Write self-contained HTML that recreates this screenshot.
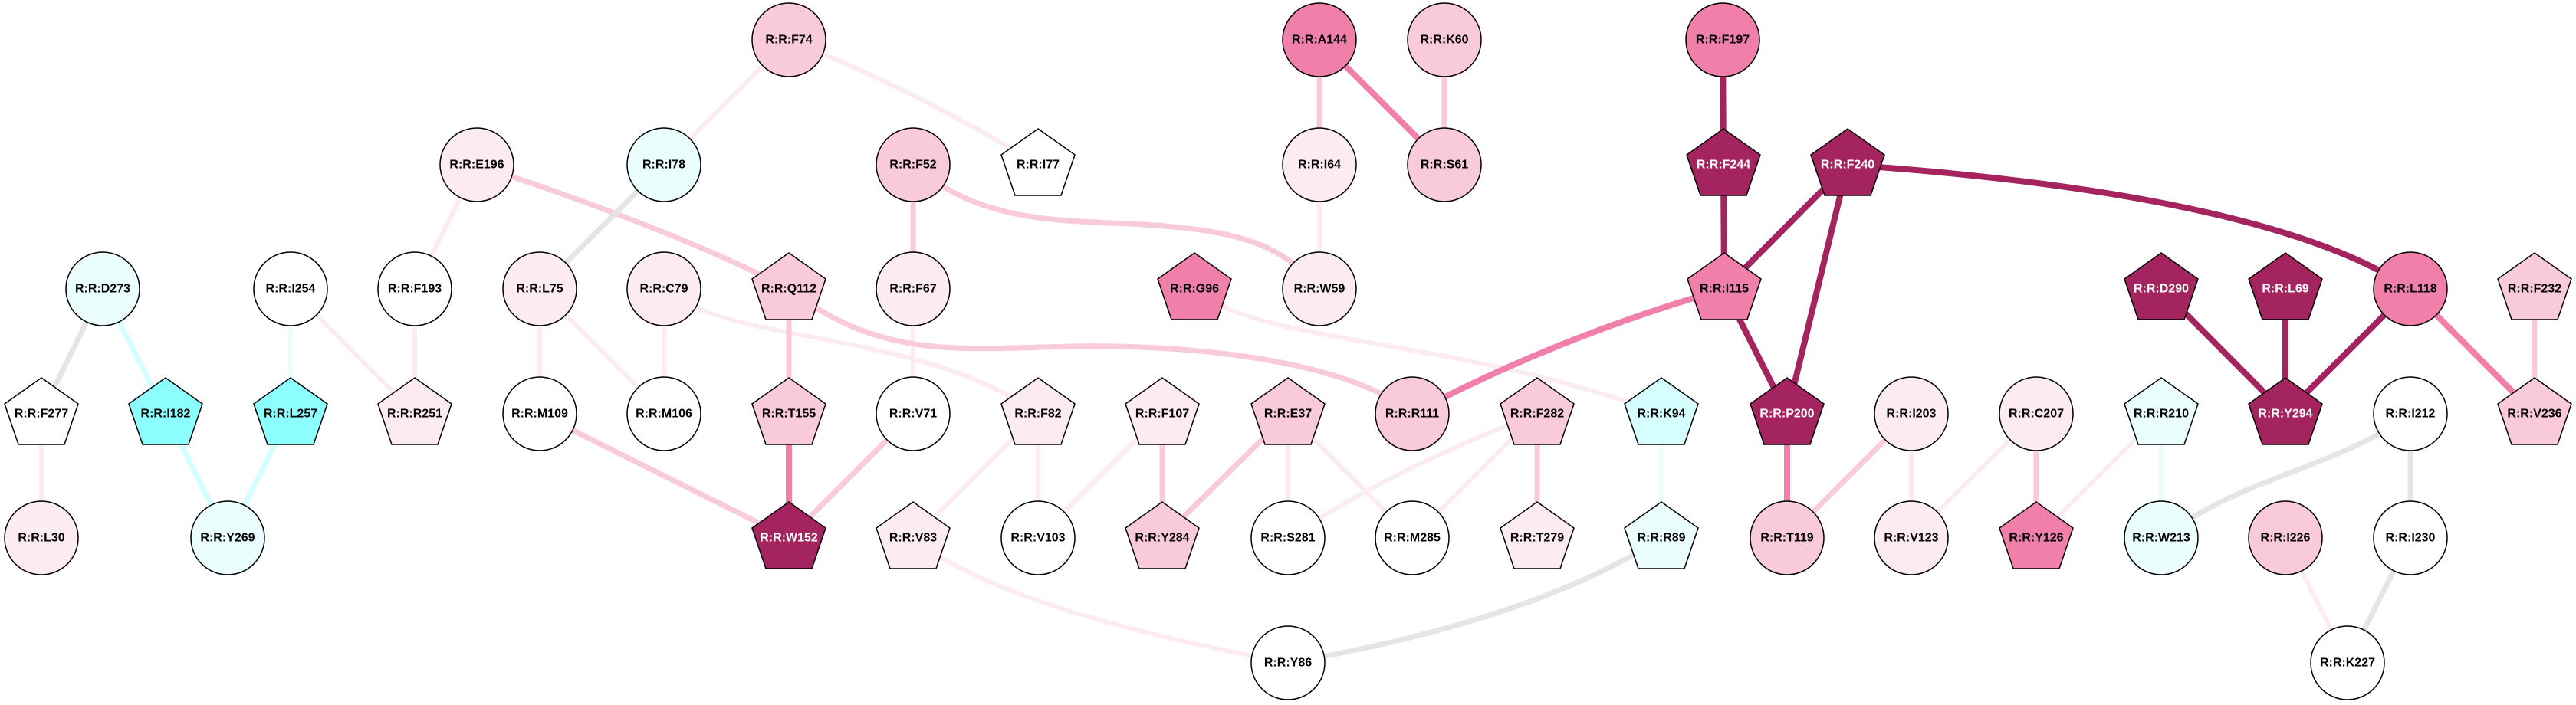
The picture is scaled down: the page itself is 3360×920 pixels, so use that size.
<!DOCTYPE html>
<html><head><meta charset="utf-8"><style>
html,body{margin:0;padding:0;background:#fff;}
svg{display:block;}
text{font-family:"Liberation Sans",Arial,sans-serif;font-weight:bold;font-size:16px;text-anchor:middle;dominant-baseline:central;}
</style></head><body>
<svg width="3360" height="920" viewBox="0 0 3360 920" xmlns="http://www.w3.org/2000/svg">
<g fill="none" stroke-linecap="butt">
<!-- light pink edges -->
<g stroke="#fcebf2" stroke-width="6">
<line x1="1029" y1="52" x2="866" y2="215"/>
<path d="M1029,52 Q1200,120 1354,215"/>
<line x1="622" y1="215" x2="541" y2="377"/>
<line x1="379" y1="377" x2="541" y2="540"/>
<line x1="541" y1="377" x2="541" y2="540"/>
<line x1="704" y1="377" x2="704" y2="540"/>
<line x1="704" y1="377" x2="866" y2="540"/>
<line x1="866" y1="377" x2="866" y2="540"/>
<path d="M866,377 C950,450 1200,430 1354,540"/>
<line x1="54" y1="540" x2="54" y2="702"/>
<line x1="1191" y1="377" x2="1191" y2="540"/>
<path d="M1558,377 C1640,450 1900,440 2167,540"/>
<line x1="1721" y1="215" x2="1721" y2="377"/>
<line x1="1354" y1="540" x2="1191" y2="702"/>
<line x1="1354" y1="540" x2="1354" y2="702"/>
<line x1="1516" y1="540" x2="1354" y2="702"/>
<line x1="1680" y1="540" x2="1680" y2="702"/>
<line x1="1680" y1="540" x2="1842" y2="702"/>
<path d="M2005,540 Q1820,610 1680,702"/>
<line x1="2005" y1="540" x2="1842" y2="702"/>
<path d="M1191,702 C1300,790 1550,840 1680,865"/>
<line x1="2493" y1="540" x2="2493" y2="702"/>
<line x1="2656" y1="540" x2="2493" y2="702"/>
<line x1="2819" y1="540" x2="2656" y2="702"/>
<line x1="2981" y1="702" x2="3062" y2="865"/>
</g>
<!-- medium pink -->
<g stroke="#f9c9dc" stroke-width="7">
<path d="M622,215 Q880,300 1029,377"/>
<line x1="1029" y1="377" x2="1029" y2="540"/>
<path d="M1029,377 C1150,470 1250,455 1400,452 S1760,470 1842,540"/>
<line x1="704" y1="540" x2="1029" y2="702"/>
<line x1="1191" y1="540" x2="1029" y2="702"/>
<line x1="1191" y1="215" x2="1191" y2="377"/>
<path d="M1191,215 C1290,300 1400,285 1520,295 S1680,330 1721,377"/>
<line x1="1721" y1="52" x2="1721" y2="215"/>
<line x1="1884" y1="52" x2="1884" y2="215"/>
<line x1="1516" y1="540" x2="1516" y2="702"/>
<line x1="1680" y1="540" x2="1516" y2="702"/>
<line x1="2005" y1="540" x2="2005" y2="702"/>
<line x1="2493" y1="540" x2="2331" y2="702"/>
<line x1="2656" y1="540" x2="2656" y2="702"/>
<line x1="3306" y1="377" x2="3306" y2="540"/>
</g>
<!-- strong pink -->
<g stroke="#f07faa" stroke-width="8">
<line x1="1029" y1="540" x2="1029" y2="702"/>
<line x1="1721" y1="52" x2="1884" y2="215"/>
<path d="M1842,540 Q2030,440 2249,377"/>
<line x1="2331" y1="540" x2="2331" y2="702"/>
<line x1="3144" y1="377" x2="3306" y2="540"/>
</g>
<!-- dark -->
<g stroke="#a3245e" stroke-width="8">
<line x1="2247" y1="52" x2="2248" y2="215"/>
<line x1="2248" y1="215" x2="2249" y2="377"/>
<line x1="2410" y1="215" x2="2249" y2="377"/>
<line x1="2410" y1="215" x2="2331" y2="540"/>
<line x1="2249" y1="377" x2="2331" y2="540"/>
<path d="M2410,215 C2700,235 3000,280 3144,377"/>
<line x1="2819" y1="377" x2="2981" y2="540"/>
<line x1="2981" y1="377" x2="2981" y2="540"/>
<line x1="3144" y1="377" x2="2981" y2="540"/>
</g>
<!-- gray -->
<g stroke="#e5e5e5" stroke-width="7">
<line x1="866" y1="215" x2="704" y2="377"/>
<line x1="134" y1="377" x2="54" y2="540"/>
<path d="M2167,702 Q2000,810 1680,865"/>
<path d="M3144,540 C3050,610 2930,620 2819,702"/>
<line x1="3144" y1="540" x2="3144" y2="702"/>
<line x1="3144" y1="702" x2="3062" y2="865"/>
</g>
<!-- cyan -->
<g stroke="#d5fefe" stroke-width="7">
<line x1="134" y1="377" x2="216" y2="540"/>
<line x1="216" y1="540" x2="297" y2="702"/>
<line x1="379" y1="540" x2="297" y2="702"/>
</g>
<g stroke="#ebfefe" stroke-width="6">
<line x1="379" y1="377" x2="379" y2="540"/>
<line x1="2167" y1="540" x2="2167" y2="702"/>
<line x1="2819" y1="540" x2="2819" y2="702"/>
</g>
</g>
<defs>
<polygon id="p" points="0,-47 48,-13 30,40 -30,40 -48,-13"/>
</defs>
<g stroke="#000" stroke-width="1.5">
<!-- circles -->
<g>
<ellipse cx="1029" cy="52" rx="48" ry="48" fill="#f9c9dc"/>
<ellipse cx="1721" cy="52" rx="48" ry="48" fill="#f07faa"/>
<ellipse cx="1884" cy="52" rx="48" ry="48" fill="#f9c9dc"/>
<ellipse cx="2247" cy="52" rx="48" ry="48" fill="#f07faa"/>
<ellipse cx="622" cy="215" rx="48" ry="48" fill="#fcebf2"/>
<ellipse cx="866" cy="215" rx="48" ry="48" fill="#ebfefe"/>
<ellipse cx="1191" cy="215" rx="48" ry="48" fill="#f9c9dc"/>
<ellipse cx="1721" cy="215" rx="48" ry="48" fill="#fcebf2"/>
<ellipse cx="1884" cy="215" rx="48" ry="48" fill="#f9c9dc"/>
<ellipse cx="134" cy="377" rx="48" ry="48" fill="#ebfefe"/>
<ellipse cx="379" cy="377" rx="48" ry="48" fill="#fff"/>
<ellipse cx="541" cy="377" rx="48" ry="48" fill="#fff"/>
<ellipse cx="704" cy="377" rx="48" ry="48" fill="#fcebf2"/>
<ellipse cx="866" cy="377" rx="48" ry="48" fill="#fcebf2"/>
<ellipse cx="1191" cy="377" rx="48" ry="48" fill="#fcebf2"/>
<ellipse cx="1721" cy="377" rx="48" ry="48" fill="#fcebf2"/>
<ellipse cx="3144" cy="377" rx="48" ry="48" fill="#f07faa"/>
<ellipse cx="704" cy="540" rx="48" ry="48" fill="#fff"/>
<ellipse cx="866" cy="540" rx="48" ry="48" fill="#fff"/>
<ellipse cx="1191" cy="540" rx="48" ry="48" fill="#fff"/>
<ellipse cx="1842" cy="540" rx="48" ry="48" fill="#f9c9dc"/>
<ellipse cx="2493" cy="540" rx="48" ry="48" fill="#fcebf2"/>
<ellipse cx="2656" cy="540" rx="48" ry="48" fill="#fcebf2"/>
<ellipse cx="3144" cy="540" rx="48" ry="48" fill="#fff"/>
<ellipse cx="54" cy="702" rx="48" ry="48" fill="#fcebf2"/>
<ellipse cx="297" cy="702" rx="48" ry="48" fill="#ebfefe"/>
<ellipse cx="1354" cy="702" rx="48" ry="48" fill="#fff"/>
<ellipse cx="1680" cy="702" rx="48" ry="48" fill="#fff"/>
<ellipse cx="1842" cy="702" rx="48" ry="48" fill="#fff"/>
<ellipse cx="2331" cy="702" rx="48" ry="48" fill="#f9c9dc"/>
<ellipse cx="2493" cy="702" rx="48" ry="48" fill="#fcebf2"/>
<ellipse cx="2819" cy="702" rx="48" ry="48" fill="#ebfefe"/>
<ellipse cx="2981" cy="702" rx="48" ry="48" fill="#f9c9dc"/>
<ellipse cx="3144" cy="702" rx="48" ry="48" fill="#fff"/>
<ellipse cx="1680" cy="865" rx="48" ry="48" fill="#fff"/>
<ellipse cx="3062" cy="865" rx="48" ry="48" fill="#fff"/>
</g>
<!-- pentagons -->
<g>
<use href="#p" x="1354" y="215" fill="#fff"/>
<use href="#p" x="2248" y="215" fill="#a3245e"/>
<use href="#p" x="2410" y="215" fill="#a3245e"/>
<use href="#p" x="1029" y="377" fill="#f9c9dc"/>
<use href="#p" x="1558" y="377" fill="#f07faa"/>
<use href="#p" x="2249" y="377" fill="#f07faa"/>
<use href="#p" x="2819" y="377" fill="#a3245e"/>
<use href="#p" x="2981" y="377" fill="#a3245e"/>
<use href="#p" x="3306" y="377" fill="#f9c9dc"/>
<use href="#p" x="54" y="540" fill="#fff"/>
<use href="#p" x="216" y="540" fill="#8cfefe"/>
<use href="#p" x="379" y="540" fill="#8cfefe"/>
<use href="#p" x="541" y="540" fill="#fcebf2"/>
<use href="#p" x="1029" y="540" fill="#f9c9dc"/>
<use href="#p" x="1354" y="540" fill="#fcebf2"/>
<use href="#p" x="1516" y="540" fill="#fcebf2"/>
<use href="#p" x="1680" y="540" fill="#f9c9dc"/>
<use href="#p" x="2005" y="540" fill="#f9c9dc"/>
<use href="#p" x="2167" y="540" fill="#d5fefe"/>
<use href="#p" x="2331" y="540" fill="#a3245e"/>
<use href="#p" x="2819" y="540" fill="#ebfefe"/>
<use href="#p" x="2981" y="540" fill="#a3245e"/>
<use href="#p" x="3306" y="540" fill="#f9c9dc"/>
<use href="#p" x="1029" y="702" fill="#a3245e"/>
<use href="#p" x="1191" y="702" fill="#fcebf2"/>
<use href="#p" x="1516" y="702" fill="#f9c9dc"/>
<use href="#p" x="2005" y="702" fill="#fcebf2"/>
<use href="#p" x="2167" y="702" fill="#ebfefe"/>
<use href="#p" x="2656" y="702" fill="#f07faa"/>
</g>
</g>
<g fill="#000">
<text x="1029" y="52">R:R:F74</text>
<text x="1721" y="52">R:R:A144</text>
<text x="1884" y="52">R:R:K60</text>
<text x="2247" y="52">R:R:F197</text>
<text x="622" y="215">R:R:E196</text>
<text x="866" y="215">R:R:I78</text>
<text x="1191" y="215">R:R:F52</text>
<text x="1354" y="215">R:R:I77</text>
<text x="1721" y="215">R:R:I64</text>
<text x="1884" y="215">R:R:S61</text>
<text x="134" y="377">R:R:D273</text>
<text x="379" y="377">R:R:I254</text>
<text x="541" y="377">R:R:F193</text>
<text x="704" y="377">R:R:L75</text>
<text x="866" y="377">R:R:C79</text>
<text x="1029" y="377">R:R:Q112</text>
<text x="1191" y="377">R:R:F67</text>
<text x="1558" y="377">R:R:G96</text>
<text x="1721" y="377">R:R:W59</text>
<text x="2249" y="377">R:R:I115</text>
<text x="3144" y="377">R:R:L118</text>
<text x="3306" y="377">R:R:F232</text>
<text x="54" y="540">R:R:F277</text>
<text x="216" y="540">R:R:I182</text>
<text x="379" y="540">R:R:L257</text>
<text x="541" y="540">R:R:R251</text>
<text x="704" y="540">R:R:M109</text>
<text x="866" y="540">R:R:M106</text>
<text x="1029" y="540">R:R:T155</text>
<text x="1191" y="540">R:R:V71</text>
<text x="1354" y="540">R:R:F82</text>
<text x="1516" y="540">R:R:F107</text>
<text x="1680" y="540">R:R:E37</text>
<text x="1842" y="540">R:R:R111</text>
<text x="2005" y="540">R:R:F282</text>
<text x="2167" y="540">R:R:K94</text>
<text x="2493" y="540">R:R:I203</text>
<text x="2656" y="540">R:R:C207</text>
<text x="2819" y="540">R:R:R210</text>
<text x="3144" y="540">R:R:I212</text>
<text x="3306" y="540">R:R:V236</text>
<text x="54" y="702">R:R:L30</text>
<text x="297" y="702">R:R:Y269</text>
<text x="1191" y="702">R:R:V83</text>
<text x="1354" y="702">R:R:V103</text>
<text x="1516" y="702">R:R:Y284</text>
<text x="1680" y="702">R:R:S281</text>
<text x="1842" y="702">R:R:M285</text>
<text x="2005" y="702">R:R:T279</text>
<text x="2167" y="702">R:R:R89</text>
<text x="2331" y="702">R:R:T119</text>
<text x="2493" y="702">R:R:V123</text>
<text x="2656" y="702">R:R:Y126</text>
<text x="2819" y="702">R:R:W213</text>
<text x="2981" y="702">R:R:I226</text>
<text x="3144" y="702">R:R:I230</text>
<text x="1680" y="865">R:R:Y86</text>
<text x="3062" y="865">R:R:K227</text>
</g>
<g fill="#fff">
<text x="2248" y="215">R:R:F244</text>
<text x="2410" y="215">R:R:F240</text>
<text x="2819" y="377">R:R:D290</text>
<text x="2981" y="377">R:R:L69</text>
<text x="2331" y="540">R:R:P200</text>
<text x="2981" y="540">R:R:Y294</text>
<text x="1029" y="702">R:R:W152</text>
</g>
</svg>
</body></html>
